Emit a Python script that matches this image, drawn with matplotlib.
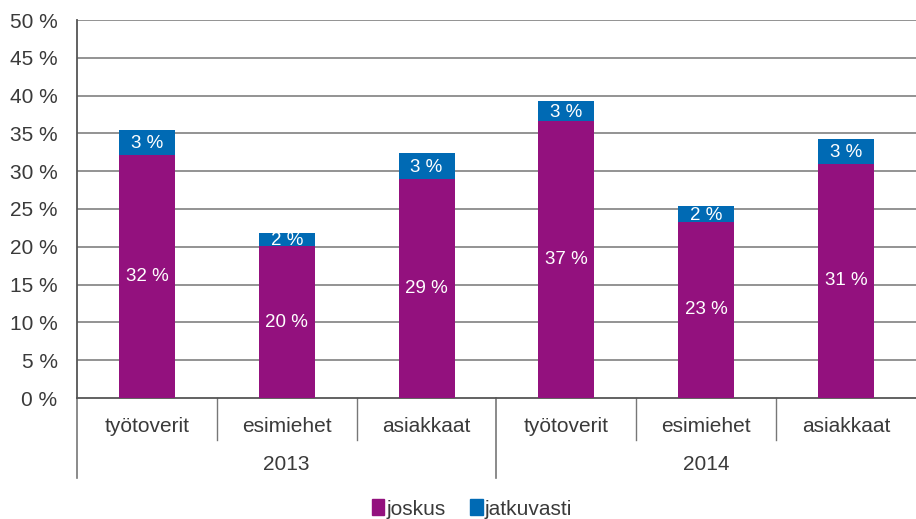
import matplotlib
matplotlib.use("Agg")
import matplotlib.pyplot as plt
from matplotlib.patches import Patch
import matplotlib.transforms as mtransforms

categories = ["työtoverit", "esimiehet", "asiakkaat", "työtoverit", "esimiehet", "asiakkaat"]
years = ["2013", "2014"]
joskus = [32.2, 20.1, 29.0, 36.6, 23.3, 31.0]
jatkuvasti = [3.2, 1.7, 3.4, 2.7, 2.1, 3.2]
joskus_labels = ["32 %", "20 %", "29 %", "37 %", "23 %", "31 %"]
jatkuvasti_labels = ["3 %", "2 %", "3 %", "3 %", "2 %", "3 %"]
yticks = [0, 5, 10, 15, 20, 25, 30, 35, 40, 45, 50]

PURPLE = "#93117E"
BLUE = "#006AB4"
TXT = "#3a3a3a"
FONT = ["Liberation Sans", "DejaVu Sans"]
plt.rcParams["font.family"] = FONT

fig = plt.figure(figsize=(9.16, 5.19), dpi=100)
ax = fig.add_axes([77/916, 1-398/519, 1-77/916, (398-20)/519])

x = list(range(len(categories)))
ax.bar(x, joskus, width=0.4, color=PURPLE, zorder=3)
ax.bar(x, jatkuvasti, width=0.4, bottom=joskus, color=BLUE, zorder=3)

for i in x:
    ax.text(i, joskus[i]/2, joskus_labels[i], ha="center", va="center", color="white", fontsize=13.5, zorder=4)
    ax.text(i, joskus[i] + jatkuvasti[i]/2 - 0.15, jatkuvasti_labels[i], ha="center", va="center", color="white", fontsize=13.5, zorder=4)

ax.set_xlim(-0.5, 5.5)
ax.set_ylim(0, 50)
ax.set_yticks(yticks)
ax.set_yticklabels([f"{v} %" for v in yticks], fontsize=15, color=TXT)
ax.tick_params(axis="y", length=0, pad=14)
ax.tick_params(axis="x", length=0)
ax.set_xticks([])
for y in yticks[1:]:
    ax.axhline(y, color="#8a8a8a", lw=1.3, zorder=1)
for s in ["top", "right"]:
    ax.spines[s].set_visible(False)
ax.spines["left"].set_color("#555555")
ax.spines["left"].set_linewidth(1.3)
ax.spines["bottom"].set_color("#555555")
ax.spines["bottom"].set_linewidth(1.3)

trans = mtransforms.blended_transform_factory(ax.transData, ax.transAxes)
ppa = 378.0
short = -(440-398)/ppa
long_ = -(478-398)/ppa
for xs in [0.5, 1.5, 3.5, 4.5]:
    ax.plot([xs, xs], [0, short], transform=trans, color="#777777", lw=1.0, clip_on=False)
for xs in [-0.5, 2.5]:
    ax.plot([xs, xs], [0, long_], transform=trans, color="#777777", lw=1.2, clip_on=False)

for i, c in enumerate(categories):
    ax.text(i, -(426-398)/ppa, c, transform=trans, ha="center", va="center", fontsize=15, color=TXT)
for j, yr in enumerate(years):
    ax.text(1 + 3*j, -(465-398)/ppa, yr, transform=trans, ha="center", va="center", fontsize=15, color=TXT)

handles = [Patch(color=PURPLE, label="joskus"), Patch(color=BLUE, label="jatkuvasti")]
fig.legend(handles=handles, loc="center", bbox_to_anchor=(472/916, 1-509/519), ncol=2, frameon=False,
           handlelength=0.6, handleheight=0.8, handletextpad=0.1, columnspacing=1.2,
           fontsize=15, labelcolor=TXT)

fig.savefig("out.png", dpi=100)
